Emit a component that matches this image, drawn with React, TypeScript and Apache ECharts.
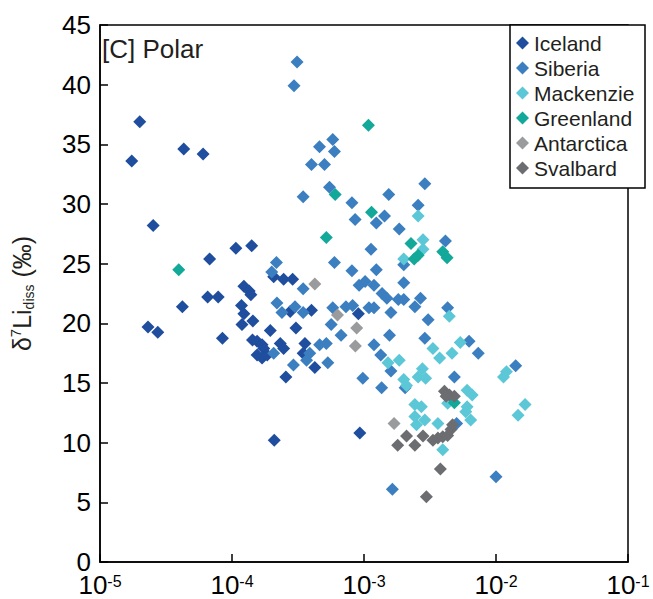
import React, { useEffect, useRef } from "react";
import * as echarts from "echarts";

const seriesNames = ["Iceland", "Siberia", "Mackenzie", "Greenland", "Antarctica", "Svalbard"];
const seriesColors = ["#1f4e9e", "#3b7fc0", "#5cc8d7", "#12a89a", "#9a9b9d", "#6c6d71"];

const iceland: [number, number][] = [
  [1.74e-5, 33.6], [2.0e-5, 36.9], [4.31e-5, 34.6], [6.04e-5, 34.2], [2.53e-5, 28.2],
  [6.77e-5, 25.4], [6.54e-5, 22.2], [7.86e-5, 22.2], [4.21e-5, 21.4], [2.31e-5, 19.7],
  [2.74e-5, 19.25], [8.46e-5, 18.75], [1.07e-4, 26.3], [1.41e-4, 26.5], [2.07e-4, 23.9],
  [2.46e-4, 23.7], [2.88e-4, 23.7], [1.23e-4, 23.1], [1.35e-4, 22.7], [1.39e-4, 22.4],
  [2.76e-4, 21.0], [4.0e-4, 21.1], [1.18e-4, 21.5], [1.23e-4, 20.8], [1.44e-4, 20.2],
  [1.19e-4, 19.9], [1.95e-4, 19.4], [3.05e-4, 19.6], [9.07e-4, 20.8], [1.43e-4, 18.6],
  [1.55e-4, 18.5], [1.69e-4, 18.2], [1.74e-4, 17.9], [1.55e-4, 17.35], [1.69e-4, 17.1],
  [1.85e-4, 17.35], [2.32e-4, 18.3], [2.46e-4, 17.9], [3.57e-4, 18.3], [3.46e-4, 17.5],
  [4.24e-4, 16.3], [2.56e-4, 15.5], [2.09e-4, 10.2], [9.3e-4, 10.8],
];

const siberia: [number, number][] = [
  [3.11e-4, 41.9], [2.95e-4, 39.9], [5.8e-4, 35.4], [4.6e-4, 34.8], [5.97e-4, 34.4],
  [4.0e-4, 33.3], [5.02e-4, 33.3], [5.48e-4, 31.4], [3.46e-4, 30.6], [8.1e-4, 30.1],
  [8.57e-4, 28.7], [1.54e-3, 30.8], [2.89e-3, 31.7], [2.57e-3, 29.9], [1.43e-3, 29.0],
  [1.24e-3, 28.4], [1.85e-3, 27.9], [4.14e-3, 26.9], [1.13e-3, 26.2], [2.0e-3, 24.9],
  [1.24e-3, 24.5], [2.17e-4, 25.1], [2.0e-4, 24.3], [5.97e-4, 25.1], [8.1e-4, 24.4],
  [9.18e-4, 23.2], [1.02e-3, 23.5], [1.19e-3, 23.2], [2.0e-3, 23.4], [3.46e-4, 22.9],
  [2.19e-4, 21.7], [2.39e-4, 20.9], [3.0e-4, 21.4], [3.46e-4, 20.9], [5.8e-4, 21.3],
  [7.3e-4, 21.4], [8.2e-4, 21.5], [5.64e-4, 19.9], [6.7e-4, 19.0], [1.37e-3, 22.5],
  [1.49e-3, 22.1], [1.82e-3, 22.0], [2.0e-3, 22.0], [2.43e-3, 21.4], [2.68e-3, 22.1],
  [1.09e-3, 21.3], [1.19e-3, 21.3], [1.6e-3, 20.9], [4.3e-3, 21.3], [3.06e-3, 20.3],
  [1.56e-3, 19.0], [2.89e-3, 18.75], [1.19e-3, 18.2], [1.34e-3, 17.35], [6.25e-3, 18.5],
  [7.34e-3, 17.5], [1.6e-3, 16.0], [9.8e-4, 15.4], [1.36e-3, 14.6], [2.05e-3, 14.6],
  [4.84e-3, 15.5], [1.41e-2, 16.45], [5.03e-3, 11.6], [1.0e-2, 7.15], [1.64e-3, 6.1],
  [4.61e-4, 18.2], [5.18e-4, 18.3], [3.88e-4, 17.5], [3.67e-4, 16.9], [2.92e-4, 16.5],
  [5.32e-4, 16.7], [2.07e-4, 17.5],
];

const mackenzie: [number, number][] = [
  [2.57e-3, 29.0], [2.8e-3, 27.0], [2.8e-3, 26.2], [2.0e-3, 25.4], [4.43e-3, 20.6],
  [3.33e-3, 17.9], [5.36e-3, 18.4], [3.74e-3, 17.1], [4.64e-3, 17.5], [1.52e-3, 16.7],
  [1.85e-3, 16.9], [2.0e-3, 15.3], [2.1e-3, 14.8], [2.57e-3, 15.5], [2.77e-3, 16.2],
  [2.93e-3, 15.4], [1.2e-2, 15.95], [1.14e-2, 15.5], [6.04e-3, 14.4], [6.6e-3, 14.0],
  [1.66e-2, 13.2], [1.47e-2, 12.3], [2.43e-3, 13.2], [2.72e-3, 13.0], [6.04e-3, 13.0],
  [5.9e-3, 12.6], [6.43e-3, 11.9], [2.43e-3, 12.2], [2.89e-3, 11.9], [2.5e-3, 11.5],
  [3.63e-3, 11.6], [3.95e-3, 9.4], [4.3e-3, 13.3],
];

const greenland: [number, number][] = [
  [3.95e-5, 24.5], [1.08e-3, 36.6], [6.05e-4, 30.8], [1.14e-3, 29.3], [5.18e-4, 27.2],
  [2.27e-3, 26.7], [2.57e-3, 25.7], [2.4e-3, 25.4], [3.95e-3, 26.0], [4.26e-3, 25.5],
  [4.84e-3, 13.35],
];

const antarctica: [number, number][] = [
  [4.24e-4, 23.3], [6.3e-4, 20.7], [8.8e-4, 19.6], [8.6e-4, 18.1], [1.69e-3, 11.6],
];

const svalbard: [number, number][] = [
  [4.07e-3, 14.3], [4.44e-3, 14.0], [4.84e-3, 13.9], [4.19e-3, 13.9], [2.1e-3, 10.56],
  [2.8e-3, 10.56], [1.8e-3, 9.78], [2.43e-3, 9.78], [3.33e-3, 10.2], [3.63e-3, 10.4],
  [3.95e-3, 10.5], [4.3e-3, 10.6], [4.56e-3, 11.1], [4.69e-3, 11.5], [3.79e-3, 7.8],
  [2.97e-3, 5.47],
];

const seriesData = [iceland, siberia, mackenzie, greenland, antarctica, svalbard];

const xMin = 1e-5;
const xMax = 1e-1;
const yMin = 0;
const yMax = 45;
const yInterval = 5;
const panelLabel = "[C] Polar";

const FONT = "'Liberation Sans', Arial, Helvetica, sans-serif";

export default function App() {
  const ref = useRef<HTMLDivElement>(null);
  useEffect(() => {
    if (!ref.current) return;
    const chart = echarts.init(ref.current, undefined, { renderer: "svg" });
    chart.setOption({
      animation: false,
      textStyle: { fontFamily: FONT },
      grid: {
        left: 92,
        right: 25,
        top: 25,
        bottom: 37,
        show: true,
        borderColor: "#000",
        borderWidth: 1.5,
        backgroundColor: "transparent",
      },
      legend: {
        orient: "vertical",
        left: 510,
        top: 25,
        padding: [7, 6, 9, 6],
        itemGap: 3,
        itemWidth: 13,
        itemHeight: 13,
        icon: "diamond",
        z: 10,
        textStyle: { fontSize: 21, lineHeight: 22, color: "#231f20", fontFamily: FONT },
        data: seriesNames,
      },
      graphic: [
        {
          type: "rect",
          z: 5,
          shape: { x: 510, y: 25, width: 135, height: 163 },
          style: { fill: "#fff", stroke: "#000", lineWidth: 1.5 },
        },
        {
          type: "text",
          left: 102,
          top: 36,
          style: { text: panelLabel, fontSize: 26, fill: "#231f20", fontFamily: FONT },
        },
      ],
      xAxis: {
        type: "log",
        logBase: 10,
        min: xMin,
        max: xMax,
        splitLine: { show: false },
        axisLine: { lineStyle: { color: "#000", width: 1.5 } },
        axisTick: { inside: true, length: 8, lineStyle: { color: "#000", width: 1.5 } },
        minorTick: { show: false },
        axisLabel: {
          margin: 11,
          color: "#000",
          formatter: (v: number) => `{b|10}{s|${Math.round(Math.log10(v))}}`,
          rich: {
            b: { fontSize: 26, lineHeight: 24, color: "#000", fontFamily: FONT },
            s: { fontSize: 16, lineHeight: 14, verticalAlign: "top", color: "#000", fontFamily: FONT },
          },
        },
      },
      yAxis: {
        type: "value",
        min: yMin,
        max: yMax,
        interval: yInterval,
        splitLine: { show: false },
        axisLine: { show: true, lineStyle: { color: "#000", width: 1.5 } },
        axisTick: { show: true, inside: true, length: 8, lineStyle: { color: "#000", width: 1.5 } },
        axisLabel: { fontSize: 26, lineHeight: 16, color: "#000", margin: 9, fontFamily: FONT },
        name: "{t|δ}{sup|7}{t|Li}{sub|diss}{t| (‰)}",
        nameLocation: "middle",
        nameRotate: 90,
        nameGap: 64,
        nameTextStyle: {
          rich: {
            t: { fontSize: 25, lineHeight: 28, color: "#231f20", fontFamily: FONT },
            sup: { fontSize: 15, lineHeight: 15, verticalAlign: "top", color: "#231f20", fontFamily: FONT },
            sub: { fontSize: 14, lineHeight: 14, verticalAlign: "bottom", color: "#231f20", fontFamily: FONT },
          },
        },
      },
      series: seriesNames.map((name, i) => ({
        name,
        type: "scatter",
        symbol: "diamond",
        symbolSize: 13,
        itemStyle: { color: seriesColors[i], opacity: 1 },
        data: seriesData[i],
      })),
    });
    return () => chart.dispose();
  }, []);
  return (
    <div
      ref={ref}
      style={{ position: "absolute", left: 0, top: 0, width: 653, height: 599 }}
    />
  );
}
